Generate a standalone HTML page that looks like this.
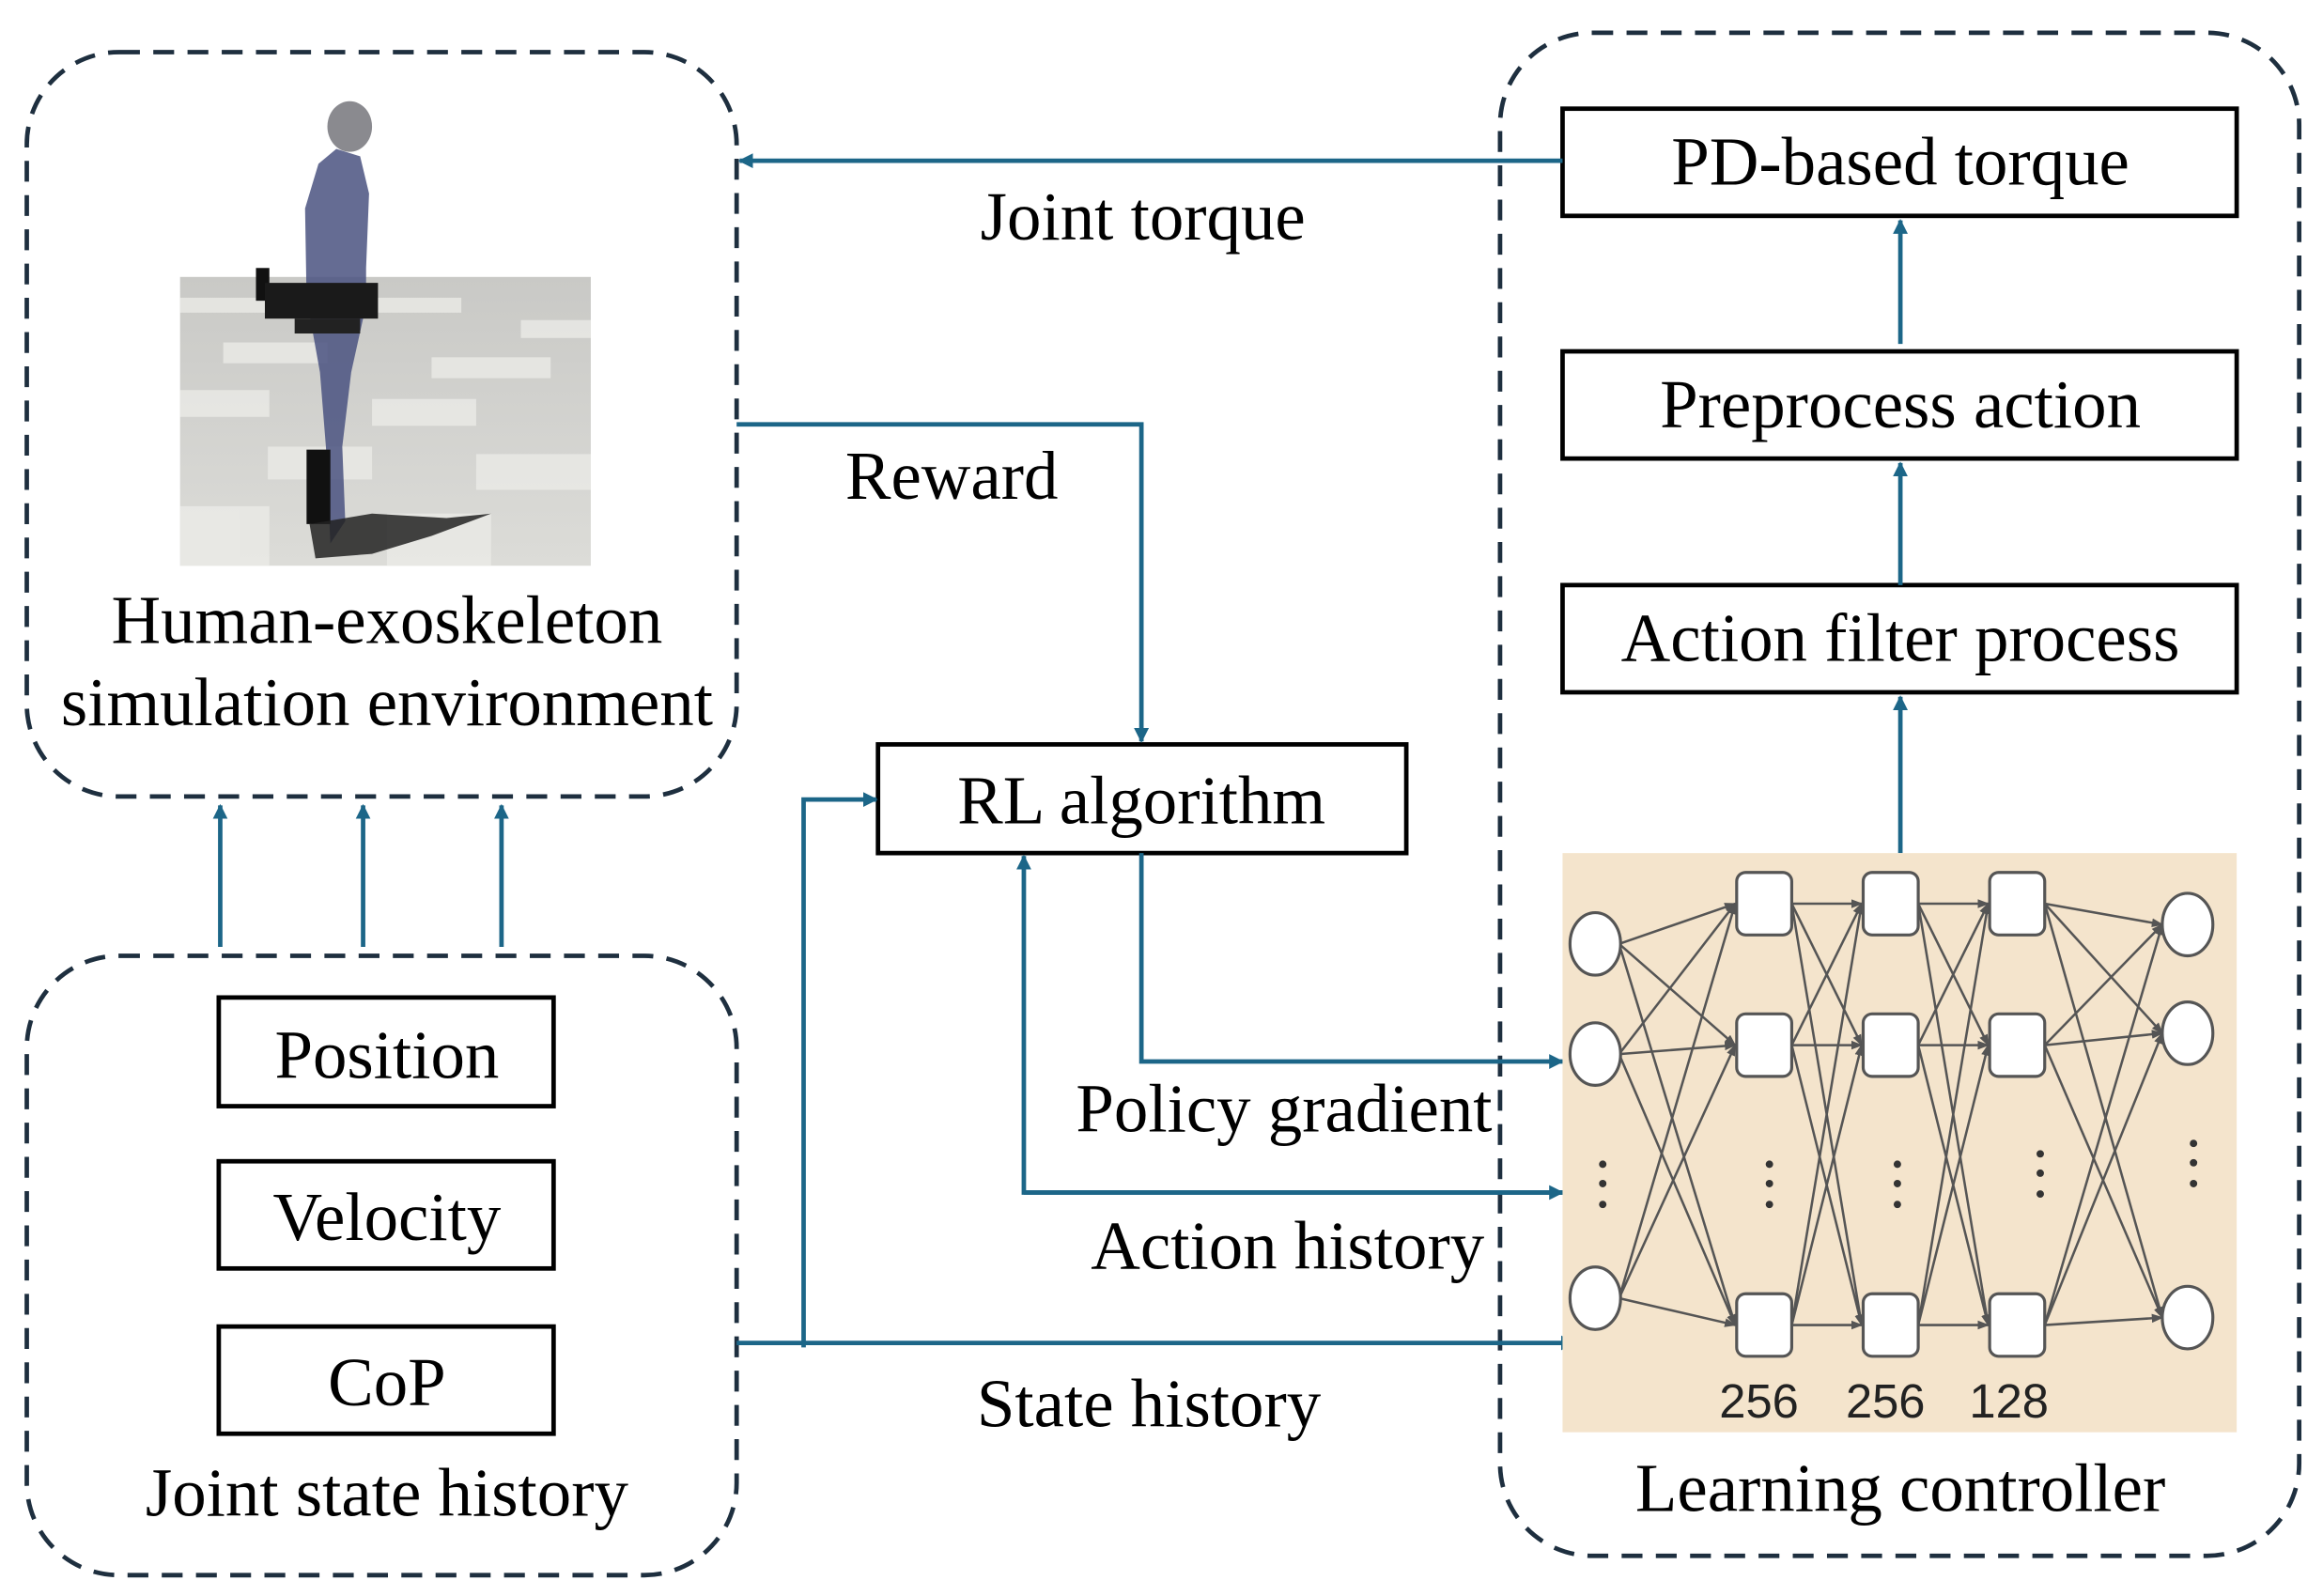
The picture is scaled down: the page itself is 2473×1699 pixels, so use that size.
<!DOCTYPE html>
<html><head><meta charset="utf-8"><style>
html,body{margin:0;padding:0;background:#fff;}
svg{display:block;}
text{font-family:"Liberation Serif",serif;fill:#000;}
text.n{font-family:"Liberation Sans",sans-serif;fill:#222;}
</style></head><body>
<svg width="2473" height="1699" viewBox="0 0 1561 1072" preserveAspectRatio="none" xmlns="http://www.w3.org/2000/svg">
<defs>
<marker id="a" markerWidth="10" markerHeight="10" refX="9" refY="5" orient="auto" markerUnits="userSpaceOnUse"><path d="M0,0 L10,5 L0,10 z" fill="#1c6688"/></marker>
<marker id="g" markerWidth="8" markerHeight="8" refX="7" refY="4" orient="auto" markerUnits="userSpaceOnUse"><path d="M0,1 L8,4 L0,7 z" fill="#555"/></marker>
<linearGradient id="fl" x1="0" y1="0" x2="0" y2="1"><stop offset="0" stop-color="#c9c9c6"/><stop offset="1" stop-color="#dcdcd8"/></linearGradient>
</defs>
<g fill="none" stroke="#1e2f3f" stroke-width="3" stroke-dasharray="14,9">
<rect x="18" y="35" width="477" height="500" rx="62"/>
<rect x="18" y="642" width="477" height="416" rx="62"/>
<rect x="1008" y="22" width="537" height="1023" rx="62"/>
</g>
<rect x="121" y="186" width="276" height="194" fill="url(#fl)"/>
<g fill="#ebebe7" opacity="0.8">
<rect x="121" y="200" width="60" height="10"/><rect x="230" y="200" width="80" height="10"/><rect x="350" y="215" width="47" height="12"/>
<rect x="150" y="230" width="70" height="14"/><rect x="290" y="240" width="80" height="14"/>
<rect x="121" y="262" width="60" height="18"/><rect x="250" y="268" width="70" height="18"/>
<rect x="180" y="300" width="70" height="22"/><rect x="320" y="305" width="77" height="24"/>
<rect x="121" y="340" width="60" height="40"/><rect x="260" y="345" width="70" height="35"/>
</g>
<ellipse cx="235" cy="85" rx="15" ry="17" fill="#8a8a8f"/>
<path d="M226,100 L242,105 L248,130 L246,180 L246,205 L236,250 L230,300 L232,350 L222,365 L219,300 L215,250 L206,200 L205,140 L214,110 Z" fill="#4a5280" opacity="0.85"/>
<rect x="172" y="180" width="9" height="22" fill="#111"/>
<rect x="178" y="190" width="76" height="24" fill="#1a1a1a"/>
<rect x="198" y="214" width="44" height="10" fill="#222"/>
<rect x="206" y="302" width="16" height="50" fill="#111"/>
<path d="M208,352 L250,345 L300,348 L330,345 L290,360 L250,372 L212,375 Z" fill="#222" opacity="0.85"/>
<text x="260" y="432" font-size="46" text-anchor="middle">Human-exoskeleton</text>
<text x="260" y="487" font-size="46" text-anchor="middle">simulation environment</text>
<g fill="#fff" stroke="#000" stroke-width="3">
<rect x="147" y="670" width="225" height="73"/>
<rect x="147" y="780" width="225" height="72"/>
<rect x="147" y="891" width="225" height="72"/>
<rect x="590" y="500" width="355" height="73"/>
<rect x="1050" y="73" width="453" height="72"/>
<rect x="1050" y="236" width="453" height="72"/>
<rect x="1050" y="393" width="453" height="72"/>
</g>
<text x="260" y="724" font-size="46" text-anchor="middle">Position</text>
<text x="260" y="833" font-size="46" text-anchor="middle">Velocity</text>
<text x="260" y="944" font-size="46" text-anchor="middle">CoP</text>
<text x="260" y="1018" font-size="46" text-anchor="middle">Joint state history</text>
<text x="767" y="553" font-size="46" text-anchor="middle">RL algorithm</text>
<text x="1277" y="124" font-size="46" text-anchor="middle">PD-based torque</text>
<text x="1277" y="287" font-size="46" text-anchor="middle">Preprocess action</text>
<text x="1277" y="444" font-size="46" text-anchor="middle">Action filter process</text>
<text x="1277" y="1015" font-size="46" text-anchor="middle">Learning controller</text>
<text x="768" y="161" font-size="46" text-anchor="middle">Joint torque</text>
<text x="568" y="335" font-size="46">Reward</text>
<text x="723" y="760" font-size="46">Policy gradient</text>
<text x="733" y="852" font-size="46">Action history</text>
<text x="772" y="958" font-size="46" text-anchor="middle">State history</text>
<g fill="none" stroke="#1c6688" stroke-width="3" marker-end="url(#a)">
<path d="M148,636 L148,541"/><path d="M244,636 L244,541"/><path d="M337,636 L337,541"/>
<path d="M1050,108 L497,108"/>
<path d="M495,285 L767,285 L767,498"/>
<path d="M767,573 L767,713 L1050,713"/>
<path d="M1050,801 L688,801 L688,575"/>
<path d="M688,801 L1050,801"/>
<path d="M495,902 L1058,902"/>
<path d="M540,905 L540,537 L589,537"/>
<path d="M1277,573 L1277,468"/>
<path d="M1277,231 L1277,148"/>
<path d="M1277,393 L1277,311"/>
</g>
<rect x="1050" y="573" width="453" height="389" fill="#f4e4cc"/>
<g stroke="#555" stroke-width="1.6" marker-end="url(#g)">
<line x1="1088" y1="634" x2="1166" y2="607"/><line x1="1088" y1="634" x2="1166" y2="702"/><line x1="1088" y1="634" x2="1166" y2="890"/>
<line x1="1088" y1="708" x2="1166" y2="607"/><line x1="1088" y1="708" x2="1166" y2="702"/><line x1="1088" y1="708" x2="1166" y2="890"/>
<line x1="1088" y1="872" x2="1166" y2="607"/><line x1="1088" y1="872" x2="1166" y2="702"/><line x1="1088" y1="872" x2="1166" y2="890"/>
<line x1="1204" y1="607" x2="1251" y2="607"/><line x1="1204" y1="607" x2="1251" y2="702"/><line x1="1204" y1="607" x2="1251" y2="890"/>
<line x1="1204" y1="702" x2="1251" y2="607"/><line x1="1204" y1="702" x2="1251" y2="702"/><line x1="1204" y1="702" x2="1251" y2="890"/>
<line x1="1204" y1="890" x2="1251" y2="607"/><line x1="1204" y1="890" x2="1251" y2="702"/><line x1="1204" y1="890" x2="1251" y2="890"/>
<line x1="1289" y1="607" x2="1336" y2="607"/><line x1="1289" y1="607" x2="1336" y2="702"/><line x1="1289" y1="607" x2="1336" y2="890"/>
<line x1="1289" y1="702" x2="1336" y2="607"/><line x1="1289" y1="702" x2="1336" y2="702"/><line x1="1289" y1="702" x2="1336" y2="890"/>
<line x1="1289" y1="890" x2="1336" y2="607"/><line x1="1289" y1="890" x2="1336" y2="702"/><line x1="1289" y1="890" x2="1336" y2="890"/>
<line x1="1374" y1="607" x2="1453" y2="621"/><line x1="1374" y1="607" x2="1453" y2="694"/><line x1="1374" y1="607" x2="1453" y2="885"/>
<line x1="1374" y1="702" x2="1453" y2="621"/><line x1="1374" y1="702" x2="1453" y2="694"/><line x1="1374" y1="702" x2="1453" y2="885"/>
<line x1="1374" y1="890" x2="1453" y2="621"/><line x1="1374" y1="890" x2="1453" y2="694"/><line x1="1374" y1="890" x2="1453" y2="885"/>
</g>
<g fill="#fff" stroke="#555" stroke-width="2">
<ellipse cx="1072" cy="634" rx="17" ry="21"/><ellipse cx="1072" cy="708" rx="17" ry="21"/><ellipse cx="1072" cy="872" rx="17" ry="21"/>
<ellipse cx="1470" cy="621" rx="17" ry="21"/><ellipse cx="1470" cy="694" rx="17" ry="21"/><ellipse cx="1470" cy="885" rx="17" ry="21"/>
<rect x="1167" y="586" width="37" height="42" rx="6"/><rect x="1167" y="681" width="37" height="42" rx="6"/><rect x="1167" y="869" width="37" height="42" rx="6"/>
<rect x="1252" y="586" width="37" height="42" rx="6"/><rect x="1252" y="681" width="37" height="42" rx="6"/><rect x="1252" y="869" width="37" height="42" rx="6"/>
<rect x="1337" y="586" width="37" height="42" rx="6"/><rect x="1337" y="681" width="37" height="42" rx="6"/><rect x="1337" y="869" width="37" height="42" rx="6"/>
</g>
<g fill="#333">
<circle cx="1077" cy="782" r="2.5"/><circle cx="1077" cy="795" r="2.5"/><circle cx="1077" cy="809" r="2.5"/>
<circle cx="1189" cy="782" r="2.5"/><circle cx="1189" cy="795" r="2.5"/><circle cx="1189" cy="809" r="2.5"/>
<circle cx="1275" cy="782" r="2.5"/><circle cx="1275" cy="795" r="2.5"/><circle cx="1275" cy="809" r="2.5"/>
<circle cx="1371" cy="775" r="2.5"/><circle cx="1371" cy="788" r="2.5"/><circle cx="1371" cy="802" r="2.5"/>
<circle cx="1474" cy="768" r="2.5"/><circle cx="1474" cy="781" r="2.5"/><circle cx="1474" cy="795" r="2.5"/>
</g>
<text class="n" x="1182" y="952" font-size="32" text-anchor="middle">256</text>
<text class="n" x="1267" y="952" font-size="32" text-anchor="middle">256</text>
<text class="n" x="1350" y="952" font-size="32" text-anchor="middle">128</text>
</svg>
</body></html>
